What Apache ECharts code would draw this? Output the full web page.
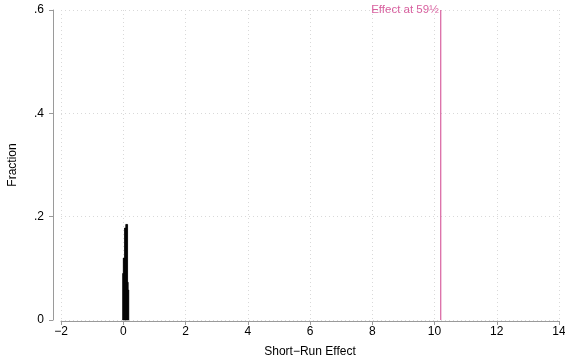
<!DOCTYPE html>
<html>
<head>
<meta charset="utf-8">
<script src="https://cdn.jsdelivr.net/npm/echarts@6/dist/echarts.min.js"></script>
<style>
  html, body { margin: 0; padding: 0; background: #fff; }
  #chart { width: 565px; height: 364px; }
</style>
</head>
<body>
<div id="chart"></div>
<script>
// Histogram of short-run effects (bin left edges and fraction per bin)
const binLeft = [-0.02, 0.00, 0.02, 0.04, 0.06, 0.08, 0.10, 0.12, 0.14, 0.16];
const binWidth = 0.02;
const fraction = [0.09, 0.12, 0.12, 0.178, 0.178, 0.185, 0.185, 0.185, 0.073, 0.058];

// Reference effect at age 59½
const refEffect = 10.2;
const refLabel = 'Effect at 59½';

// Axis ticks
const xTicks = [-2, 0, 2, 4, 6, 8, 10, 12, 14];
const yTicks = [0, 0.2, 0.4, 0.6];

const FONT = '"Liberation Sans", Arial, Helvetica, sans-serif';
const pink = '#d8609f';
const axisGrey = '#9a9a9a';

const histData = binLeft.map((l, i) => [l, l + binWidth, fraction[i]]);
const yTop = yTicks[yTicks.length - 1];

const chart = echarts.init(document.getElementById('chart'));
chart.setOption({
  animation: false,
  backgroundColor: '#ffffff',
  textStyle: { fontFamily: FONT },
  grid: { left: 61, right: 6, top: 10, bottom: 44, containLabel: false, outerBoundsMode: 'none' },
  xAxis: {
    type: 'value',
    min: xTicks[0], max: xTicks[xTicks.length - 1], interval: 2,
    offset: 1,
    axisLine: { onZero: false, lineStyle: { color: axisGrey, width: 1 } },
    axisTick: { show: true, length: 4, lineStyle: { color: axisGrey } },
    axisLabel: {
      color: '#000', fontSize: 12, fontFamily: FONT, margin: 5,
      formatter: v => String(v).replace('-', '\u2212')
    },
    splitLine: { show: true, lineStyle: { color: '#d9d9d9', type: [1, 3], width: 1 } },
    name: 'Short\u2212Run Effect',
    nameLocation: 'middle', nameGap: 25,
    nameTextStyle: { color: '#000', fontSize: 12, fontFamily: FONT }
  },
  yAxis: {
    type: 'value',
    min: yTicks[0], max: yTop, interval: 0.2,
    offset: 8,
    axisLine: { show: true, onZero: false, lineStyle: { color: axisGrey, width: 1 } },
    axisTick: { show: true, length: 4, lineStyle: { color: axisGrey } },
    axisLabel: {
      color: '#000', fontSize: 12, fontFamily: FONT, margin: 9,
      formatter: v => v === 0 ? '0' : v.toFixed(1).replace(/^0\./, '.')
    },
    splitLine: { show: true, lineStyle: { color: '#d9d9d9', type: [1, 3], width: 1 } },
    name: 'Fraction',
    nameLocation: 'middle', nameGap: 34,
    nameTextStyle: { color: '#000', fontSize: 12, fontFamily: FONT }
  },
  series: [
    {
      type: 'custom',
      name: 'histogram',
      data: histData,
      encode: { x: [0, 1], y: 2 },
      renderItem: (params, api) => {
        const p0 = api.coord([api.value(0), api.value(2)]);
        const p1 = api.coord([api.value(1), 0]);
        return {
          type: 'rect',
          shape: { x: p0[0], y: p0[1], width: p1[0] - p0[0], height: p1[1] - p0[1] },
          style: { fill: '#000', stroke: '#000', lineWidth: 0.6 }
        };
      }
    },
    {
      type: 'line',
      name: 'reference',
      data: [
        [refEffect, 0],
        {
          value: [refEffect, yTop],
          label: {
            show: true, formatter: refLabel, position: 'left', distance: 2,
            color: pink, fontSize: 11.5, fontFamily: FONT
          }
        }
      ],
      symbol: 'circle',
      symbolSize: 0,
      showSymbol: true,
      lineStyle: { color: pink, width: 1.2 }
    }
  ]
});
</script>
</body>
</html>
